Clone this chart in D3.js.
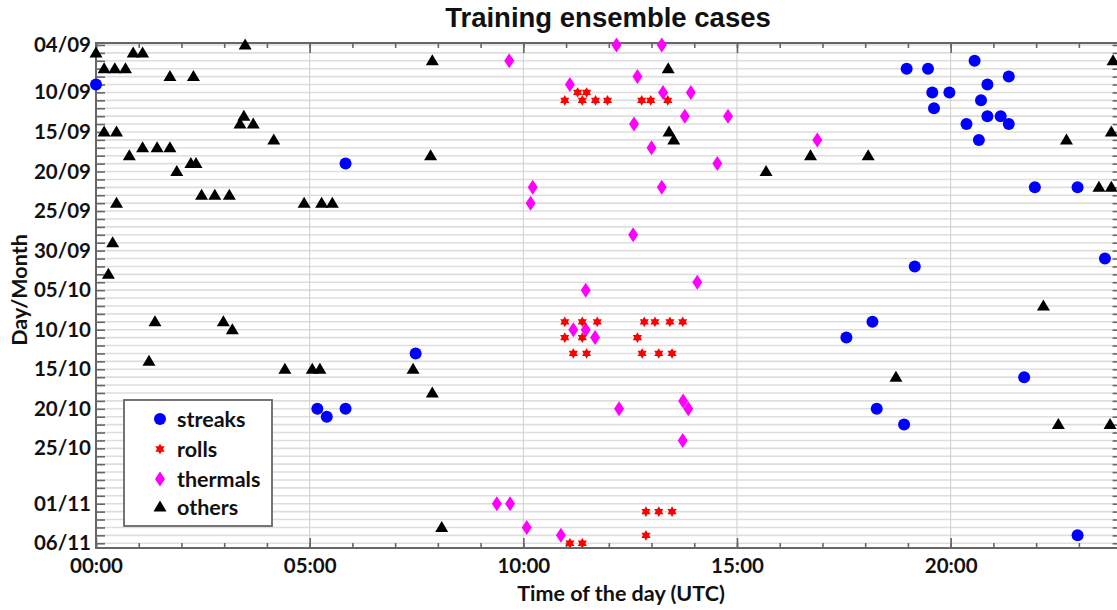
<!DOCTYPE html>
<html>
<head>
<meta charset="utf-8">
<script src="https://cdn.jsdelivr.net/npm/d3@7"></script>
<style>
  body { margin: 0; background: #fff; }
  svg { display: block; }
</style>
</head>
<body>
<svg id="chart" width="1117" height="610"></svg>
<script>
// Day/month labels shown on the left axis
const yTickLabels = ["04/09", "10/09", "15/09", "20/09", "25/09", "30/09",
  "05/10", "10/10", "15/10", "20/10", "25/10", "01/11", "06/11"];
// Hour labels shown on the bottom axis
const xTickLabels = ["00:00", "05:00", "10:00", "15:00", "20:00"];
const xMajorHours = [0, 5, 10, 15, 20];

// Cases: [day/month, time of day in decimal hours UTC]
const streaks = [
  ["09/09", 0.00], ["19/09", 5.84], ["20/10", 5.18], ["21/10", 5.40], ["20/10", 5.84],
  ["13/10", 7.48], ["06/09", 20.56], ["07/09", 18.97], ["07/09", 19.47], ["08/09", 21.36],
  ["09/09", 20.86], ["10/09", 19.57], ["10/09", 19.97], ["11/09", 20.71], ["12/09", 19.61],
  ["13/09", 20.86], ["13/09", 21.17], ["14/09", 20.37], ["14/09", 21.36], ["16/09", 20.66],
  ["22/09", 21.97], ["22/09", 22.97], ["01/10", 23.61], ["02/10", 19.16], ["09/10", 18.17],
  ["11/10", 17.56], ["16/10", 21.72], ["20/10", 18.27], ["22/10", 18.91], ["05/11", 22.97]
];
const rolls = [
  ["10/09", 11.27], ["10/09", 11.48],
  ["11/09", 10.97], ["11/09", 11.38], ["11/09", 11.69], ["11/09", 11.97],
  ["11/09", 12.77], ["11/09", 12.98], ["11/09", 13.38],
  ["09/10", 10.97], ["09/10", 11.38], ["09/10", 11.73],
  ["09/10", 12.83], ["09/10", 13.08], ["09/10", 13.43], ["09/10", 13.73],
  ["11/10", 10.97], ["11/10", 11.38], ["11/10", 12.67],
  ["13/10", 11.17], ["13/10", 11.48], ["13/10", 12.78], ["13/10", 13.17], ["13/10", 13.48],
  ["02/11", 12.87], ["02/11", 13.17], ["02/11", 13.48],
  ["05/11", 12.87], ["06/11", 11.09], ["06/11", 11.38]
];
const thermals = [
  ["04/09", 12.18], ["04/09", 13.24], ["06/09", 9.67], ["08/09", 12.67], ["09/09", 11.09],
  ["10/09", 13.27], ["10/09", 13.92], ["13/09", 13.78], ["13/09", 14.79], ["14/09", 12.59],
  ["16/09", 16.88], ["17/09", 13.00], ["19/09", 14.54], ["22/09", 10.22], ["22/09", 13.24],
  ["24/09", 10.17], ["28/09", 12.57], ["04/10", 14.07], ["05/10", 11.46], ["10/10", 11.17],
  ["10/10", 11.46], ["11/10", 11.68], ["19/10", 13.74], ["20/10", 12.24], ["20/10", 13.86],
  ["24/10", 13.73], ["01/11", 9.38], ["01/11", 9.69], ["04/11", 10.08], ["05/11", 10.88]
];
const others = [
  ["04/09", 3.49], ["05/09", 0.00], ["05/09", 0.87], ["05/09", 1.09],
  ["06/09", 7.87], ["06/09", 23.80],
  ["07/09", 0.19], ["07/09", 0.44], ["07/09", 0.69], ["07/09", 13.39],
  ["08/09", 1.73], ["08/09", 2.28], ["13/09", 3.46], ["14/09", 3.37], ["14/09", 3.68],
  ["15/09", 0.19], ["15/09", 0.48], ["15/09", 13.41], ["15/09", 23.76],
  ["16/09", 4.16], ["16/09", 13.52], ["16/09", 22.71],
  ["17/09", 1.09], ["17/09", 1.43], ["17/09", 1.73],
  ["18/09", 0.78], ["18/09", 7.83], ["18/09", 16.72], ["18/09", 18.07],
  ["19/09", 2.22], ["19/09", 2.34], ["20/09", 1.89], ["20/09", 15.68],
  ["22/09", 23.47], ["22/09", 23.76],
  ["23/09", 2.47], ["23/09", 2.78], ["23/09", 3.12],
  ["24/09", 0.48], ["24/09", 4.87], ["24/09", 5.28], ["24/09", 5.53],
  ["29/09", 0.39], ["03/10", 0.29], ["07/10", 22.17],
  ["09/10", 1.38], ["09/10", 2.98], ["10/10", 3.19], ["14/10", 1.24],
  ["15/10", 4.42], ["15/10", 5.06], ["15/10", 5.24], ["15/10", 7.42],
  ["16/10", 18.72], ["18/10", 7.87], ["22/10", 22.52], ["22/10", 23.73], ["04/11", 8.09]
];

const seriesNames = ["streaks", "rolls", "thermals", "others"];
const seriesColors = ["#0000ff", "#ff0000", "#ff00ff", "#000000"];

// ---- marker shapes ----
function hexagram(R) {
  const r = R / Math.sqrt(3);
  const pts = d3.range(12).map(k => {
    const a = (-90 + k * 30) * Math.PI / 180;
    const rad = k % 2 === 0 ? R : r;
    return [rad * Math.cos(a), rad * Math.sin(a)];
  });
  return "M" + pts.map(p => p.join(",")).join("L") + "Z";
}
const shapePaths = {
  rolls: hexagram(5.3),
  thermals: "M0,-7.5L5,0L0,7.5L-5,0Z",
  others: "M0,-6.5L6.5,4.5L-6.5,4.5Z"
};

// ---- layout ----
const svg = d3.select("#chart");
const plotLeft = 96, plotRight = 1121.6, plotTop = 43, plotBottom = 548;
const parseDay = s => d3.utcParse("%d/%m/%Y")(s + "/2015");
const dayMs = 864e5;

const x = d3.scaleLinear().domain([0, 24]).range([plotLeft, plotRight]);
const y = d3.scaleUtc()
  .domain([new Date(+parseDay("04/09") - 0.25 * dayMs), new Date(+parseDay("06/11") + 0.6 * dayMs)])
  .range([plotTop, plotBottom]);

const allDays = d3.utcDay.range(parseDay("04/09"), new Date(+parseDay("06/11") + dayMs));
const labelSet = new Set(yTickLabels);
const fmtDay = d3.utcFormat("%d/%m");

const labelFont = "Lato, 'Open Sans', sans-serif";

// horizontal day gridlines
svg.append("g").selectAll("line").data(allDays).join("line")
  .attr("x1", plotLeft).attr("x2", plotRight)
  .attr("y1", d => y(d)).attr("y2", d => y(d))
  .attr("stroke", "#dedede").attr("stroke-width", 1.6);

// vertical gridlines at labelled hours
svg.append("g").selectAll("line").data(xMajorHours.slice(1)).join("line")
  .attr("x1", d => x(d)).attr("x2", d => x(d))
  .attr("y1", plotTop).attr("y2", plotBottom)
  .attr("stroke", "#cfcfcf").attr("stroke-width", 1);

// axes (ticks point inwards)
const axisColor = "#666";
function styleAxis(g) {
  g.select(".domain").remove();
  g.selectAll(".tick line").attr("stroke", axisColor).attr("stroke-width", 1.6);
  g.selectAll("text").attr("font-family", labelFont).attr("font-weight", 700)
    .attr("font-size", 20.5).attr("fill", "#111");
}

svg.append("g").attr("transform", `translate(${plotLeft},0)`)
  .call(d3.axisLeft(y).tickValues(allDays).tickSize(-9).tickPadding(5)
    .tickFormat(d => labelSet.has(fmtDay(d)) ? fmtDay(d) : ""))
  .call(styleAxis);

svg.append("g").attr("transform", `translate(${plotRight},0)`)
  .call(d3.axisRight(y).tickValues(allDays).tickSize(-9).tickFormat(""))
  .call(styleAxis);

const hours = d3.range(0, 25);
svg.append("g").attr("transform", `translate(0,${plotBottom})`)
  .call(d3.axisBottom(x).tickValues(hours).tickSize(-5).tickFormat(""))
  .call(styleAxis);
svg.append("g").attr("transform", `translate(0,${plotBottom})`)
  .call(d3.axisBottom(x).tickValues(xMajorHours).tickSize(-10).tickPadding(10)
    .tickFormat((d, i) => xTickLabels[i]))
  .call(styleAxis);
svg.append("g").attr("transform", `translate(0,${plotTop})`)
  .call(d3.axisTop(x).tickValues(hours).tickSize(-5).tickFormat(""))
  .call(styleAxis);
svg.append("g").attr("transform", `translate(0,${plotTop})`)
  .call(d3.axisTop(x).tickValues(xMajorHours).tickSize(-10).tickFormat(""))
  .call(styleAxis);

// plot frame
svg.append("rect")
  .attr("x", plotLeft).attr("y", plotTop)
  .attr("width", plotRight - plotLeft).attr("height", plotBottom - plotTop)
  .attr("fill", "none").attr("stroke", axisColor).attr("stroke-width", 2);

// titles
svg.append("text").attr("x", 608).attr("y", 27).attr("text-anchor", "middle")
  .attr("font-family", "'Liberation Sans', Arial, sans-serif").attr("font-weight", 700)
  .attr("font-size", 27.5).attr("fill", "#111").text("Training ensemble cases");

svg.append("text").attr("x", 621).attr("y", 601).attr("text-anchor", "middle")
  .attr("font-family", labelFont).attr("font-weight", 700)
  .attr("font-size", 21.5).attr("fill", "#111").text("Time of the day (UTC)");

svg.append("text").attr("transform", "translate(27,290) rotate(-90)")
  .attr("text-anchor", "middle")
  .attr("font-family", labelFont).attr("font-weight", 700)
  .attr("font-size", 21.5).attr("fill", "#111").text("Day/Month");

// ---- markers ----
const marks = svg.append("g");
function drawSeries(data, name, color) {
  const pos = d => `translate(${x(d[1])},${y(parseDay(d[0]))})`;
  if (name === "streaks") {
    marks.append("g").selectAll("circle").data(data).join("circle")
      .attr("cx", d => x(d[1])).attr("cy", d => y(parseDay(d[0])))
      .attr("r", 6).attr("fill", color);
  } else {
    marks.append("g").selectAll("path").data(data).join("path")
      .attr("transform", pos).attr("d", shapePaths[name]).attr("fill", color);
  }
}
drawSeries(others, "others", seriesColors[3]);
drawSeries(thermals, "thermals", seriesColors[2]);
drawSeries(rolls, "rolls", seriesColors[1]);
drawSeries(streaks, "streaks", seriesColors[0]);

// ---- legend ----
const legend = svg.append("g");
legend.append("rect").attr("x", 124).attr("y", 400).attr("width", 148).attr("height", 126)
  .attr("fill", "#fff").attr("stroke", axisColor).attr("stroke-width", 1.8);
const legendY = [419, 449, 479, 507];
seriesNames.forEach((name, i) => {
  const g = legend.append("g").attr("transform", `translate(160,${legendY[i]})`);
  if (name === "streaks") g.append("circle").attr("r", 6).attr("fill", seriesColors[i]);
  else g.append("path").attr("d", shapePaths[name]).attr("fill", seriesColors[i]);
  legend.append("text").attr("x", 177).attr("y", legendY[i]).attr("dy", "0.35em")
    .attr("font-family", labelFont).attr("font-weight", 700).attr("font-size", 21.5)
    .attr("fill", "#111").text(name);
});
</script>
</body>
</html>
